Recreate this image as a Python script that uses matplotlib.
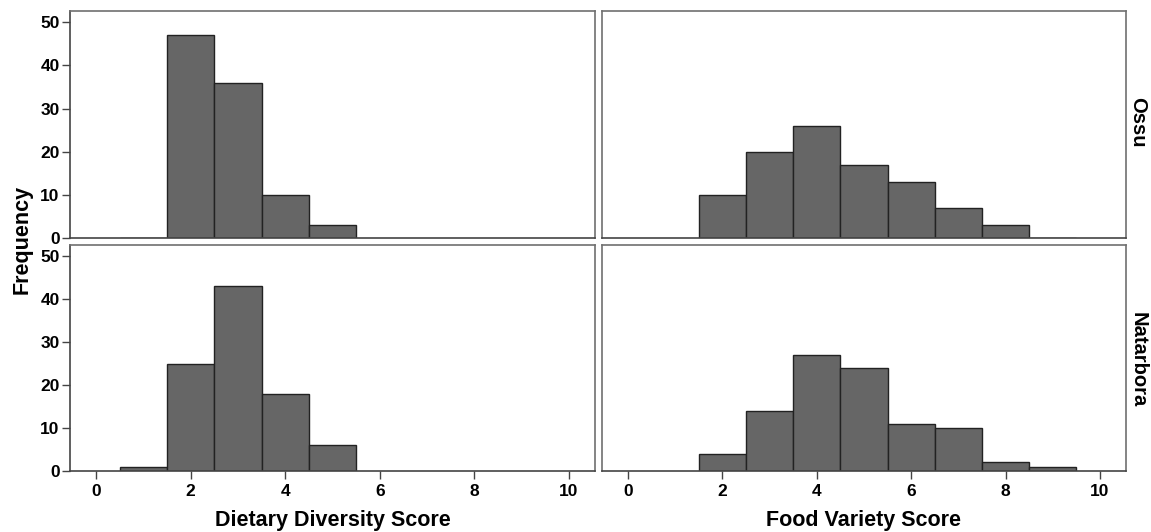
import matplotlib
matplotlib.use("Agg")
import matplotlib.pyplot as plt

# Data
dds_scores = [1, 2, 3, 4, 5]
dds_ossu = [0, 47, 36, 10, 3]
dds_natarbora = [1, 25, 43, 18, 6]

fvs_scores = [2, 3, 4, 5, 6, 7, 8, 9]
fvs_ossu = [10, 20, 26, 17, 13, 7, 3, 0]
fvs_natarbora = [4, 14, 27, 24, 11, 10, 2, 1]

row_labels = ["Ossu", "Natarbora"]
col_labels = ["Dietary Diversity Score", "Food Variety Score"]
xticks = [0, 2, 4, 6, 8, 10]
yticks = [0, 10, 20, 30, 40, 50]

plt.rcParams['font.family'] = ['Liberation Sans', 'DejaVu Sans']
plt.rcParams['font.weight'] = 'bold'

W, H = 1151, 532
fig = plt.figure(figsize=(W / 100, H / 100), dpi=100)

def add_ax(x0, x1, ytop, ybot):
    return fig.add_axes([x0 / W, (H - ybot) / H, (x1 - x0) / W, (ybot - ytop) / H])

cols = [(70, 595), (602, 1126)]
rows = [(11, 238), (245, 471)]
row_label_y = [122, 360]

data = [[(dds_scores, dds_ossu), (fvs_scores, fvs_ossu)],
        [(dds_scores, dds_natarbora), (fvs_scores, fvs_natarbora)]]

bar_color = "#666666"
edge_color = "#222222"
frame_color = "#707070"

for r, (yt, yb) in enumerate(rows):
    for c, (x0, x1) in enumerate(cols):
        ax = add_ax(x0, x1, yt, yb)
        sc, vals = data[r][c]
        ax.bar(sc, vals, width=1.0, color=bar_color, edgecolor=edge_color, linewidth=1.0)
        ax.set_xlim(-0.55, 10.55)
        ax.set_ylim(0, 52.6)
        for s in ax.spines.values():
            s.set_color(frame_color)
            s.set_linewidth(1.2)
        ax.spines['bottom'].set_color("#444444")
        if c == 0:
            ax.spines['left'].set_color("#444444")
        ax.tick_params(axis='both', direction='out', length=5.5, width=1,
                       color="#444444", labelsize=12.5, pad=2)
        ax.tick_params(axis='x', pad=4)
        if c == 0:
            ax.set_yticks(yticks)
            ax.set_yticklabels([str(v) for v in yticks], fontweight='bold')
        else:
            ax.set_yticks([])
        if r == 1:
            ax.set_xticks(xticks)
            ax.set_xticklabels([str(v) for v in xticks], fontweight='bold')
            ax.set_xlabel(col_labels[c], fontsize=15.5, fontweight='bold', labelpad=8)
        else:
            ax.set_xticks([])

for r in range(2):
    fig.text(1138 / W, (H - row_label_y[r]) / H, row_labels[r], rotation=-90,
             ha='center', va='center', fontsize=14.5, fontweight='bold')

fig.text(22 / W, (H - 239) / H, "Frequency", rotation=90, ha='center', va='center',
         fontsize=15.5, fontweight='bold')

fig.savefig("out.png", dpi=100)
